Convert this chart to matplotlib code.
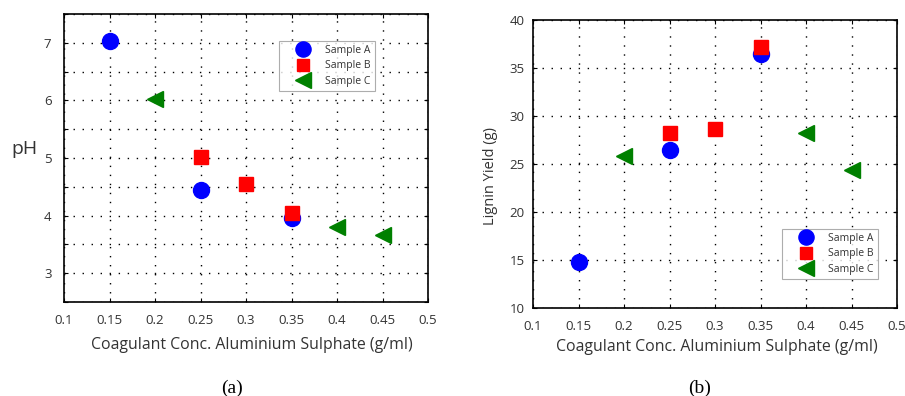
import matplotlib
matplotlib.use("Agg")
import matplotlib.pyplot as plt
from matplotlib.ticker import MultipleLocator

plt.rcParams['font.family'] = ['Open Sans', 'DejaVu Sans']

x_ticks = [0.1, 0.15, 0.2, 0.25, 0.3, 0.35, 0.4, 0.45, 0.5]
x_tick_labels = ['0.1', '0.15', '0.2', '0.25', '0.3', '0.35', '0.4', '0.45', '0.5']

# Panel (a): pH
ph_A_x = [0.15, 0.25, 0.35]
ph_A_y = [7.03, 4.45, 3.96]
ph_B_x = [0.25, 0.30, 0.35]
ph_B_y = [5.02, 4.55, 4.05]
ph_C_x = [0.20, 0.40, 0.45]
ph_C_y = [6.02, 3.81, 3.66]

# Panel (b): Lignin yield
ly_A_x = [0.15, 0.25, 0.35]
ly_A_y = [14.8, 26.5, 36.5]
ly_B_x = [0.25, 0.30, 0.35]
ly_B_y = [28.2, 28.6, 37.2]
ly_C_x = [0.20, 0.40, 0.45]
ly_C_y = [25.8, 28.2, 24.4]

labels = ['Sample A', 'Sample B', 'Sample C']

fig = plt.figure(figsize=(9.05, 3.96), dpi=100)
W, H = 905, 396
ax1 = fig.add_axes([64 / W, 1 - 302 / H, (428 - 64) / W, (302 - 14) / H])
ax2 = fig.add_axes([533 / W, 1 - 308 / H, (897 - 533) / W, (308 - 20) / H])

grid_ls = (0, (1, 5.5))

def style(ax):
    ax.set_axisbelow(True)
    ax.set_xlim(0.1, 0.5)
    ax.set_xticks(x_ticks)
    ax.set_xticklabels(x_tick_labels)
    ax.tick_params(which='both', direction='in', top=True, right=True,
                   labelsize=9.5, labelcolor='#333333', color='black',
                   length=3, width=0.8)
    ax.tick_params(axis='x', pad=9)
    ax.tick_params(axis='y', pad=6)
    for s in ax.spines.values():
        s.set_linewidth(1.2)
    ax.set_xlabel('Coagulant Conc. Aluminium Sulphate (g/ml)', fontsize=11.4,
                  color='#333333', labelpad=8)

def draw(ax, ax_, ay, bx, by, cx, cy):
    ax.plot(ax_, ay, 'o', color='blue', markersize=11.5, label=labels[0], zorder=3)
    ax.plot(bx, by, 's', color='red', markersize=9.5, label=labels[1], zorder=3)
    ax.plot(cx, cy, '<', color='green', markersize=11.5, label=labels[2], zorder=3)

def legend(ax, x0, y0, ax_left, ax_top):
    leg = ax.legend(loc='upper left',
                    bbox_to_anchor=((x0 - ax_left) / 364, 1 - (y0 - ax_top) / 288),
                    borderaxespad=0, fontsize=7.5, frameon=True, fancybox=False,
                    edgecolor='#999999', borderpad=0.35, labelspacing=0.45,
                    handlelength=3.9, handletextpad=0.2, markerscale=0.95)
    leg.get_frame().set_linewidth(0.8)
    for t in leg.get_texts():
        t.set_color('#333333')

# Panel a
draw(ax1, ph_A_x, ph_A_y, ph_B_x, ph_B_y, ph_C_x, ph_C_y)
style(ax1)
ax1.set_ylim(2.5, 7.5)
ax1.set_yticks([3, 4, 5, 6, 7])
ax1.yaxis.set_minor_locator(MultipleLocator(0.5))
ax1.tick_params(axis='y', pad=9)
ax1.grid(True, which='both', linestyle=grid_ls, color='black', linewidth=1.0)
ax1.set_ylabel('pH', fontsize=14, color='#333333', rotation=0, va='center', ha='center')
ax1.yaxis.set_label_coords(-40 / 364, 1 - (149 - 14) / 288)
ax1.xaxis.set_label_coords((252 - 64) / 364, -(345 - 302) / 288)
ax1.xaxis.label.set_va('center')
legend(ax1, 279, 41, 64, 14)

# Panel b
draw(ax2, ly_A_x, ly_A_y, ly_B_x, ly_B_y, ly_C_x, ly_C_y)
style(ax2)
ax2.set_ylim(10, 40)
ax2.set_yticks([10, 15, 20, 25, 30, 35, 40])
ax2.grid(True, which='major', linestyle=grid_ls, color='black', linewidth=1.0)
ax2.set_ylabel('Lignin Yield (g)', fontsize=10.5, color='#333333',
               va='center', ha='center')
ax2.yaxis.set_label_coords(-(533 - 490) / 364, 1 - (176 - 20) / 288)
ax2.xaxis.set_label_coords((717 - 533) / 364, -(347 - 308) / 288)
ax2.xaxis.label.set_va('center')
legend(ax2, 782, 229, 533, 20)

fig.text(232 / W, 1 - 388 / H, '(a)', fontsize=14, family='Liberation Serif',
         ha='center', va='center')
fig.text(700 / W, 1 - 388 / H, '(b)', fontsize=14, family='Liberation Serif',
         ha='center', va='center')

fig.savefig('out.png', dpi=100)
